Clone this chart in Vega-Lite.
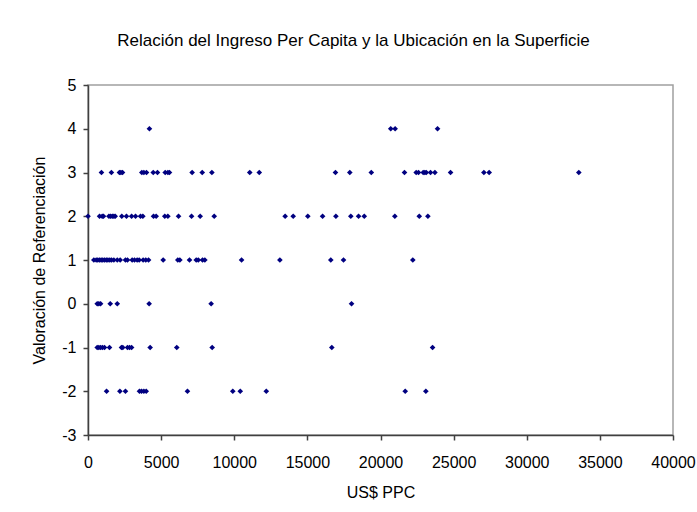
{
  "$schema": "https://vega.github.io/schema/vega-lite/v6.json",
  "autosize": "none",
  "width": 585,
  "height": 350,
  "padding": {"left": 88, "top": 85, "right": 24, "bottom": 77},
  "background": "white",
  "title": {
    "text": "Relación del Ingreso Per Capita y la Ubicación en la Superficie",
    "font": "Liberation Sans",
    "fontSize": 17,
    "fontWeight": "normal",
    "color": "black",
    "anchor": "middle",
    "dx": -27,
    "offset": 27
  },
  "config": {
    "view": {"stroke": "#a0a0a0", "strokeWidth": 1.5},
    "axis": {
      "grid": false,
      "domainColor": "#404040",
      "domainWidth": 1.5,
      "tickColor": "#404040",
      "tickWidth": 1.5,
      "tickSize": 5,
      "labelFont": "Liberation Sans",
      "labelFontSize": 16,
      "labelColor": "black",
      "titleFont": "Liberation Sans",
      "titleFontSize": 16,
      "titleFontWeight": "normal",
      "titleColor": "black"
    }
  },
  "data": {
    "values": [
      {"ingreso": 4200, "valoracion": 4}, {"ingreso": 20700, "valoracion": 4}, {"ingreso": 21000, "valoracion": 4}, {"ingreso": 23900, "valoracion": 4},
      {"ingreso": 920, "valoracion": 3}, {"ingreso": 1600, "valoracion": 3}, {"ingreso": 2150, "valoracion": 3}, {"ingreso": 2250, "valoracion": 3}, {"ingreso": 2360, "valoracion": 3}, {"ingreso": 3680, "valoracion": 3}, {"ingreso": 3820, "valoracion": 3}, {"ingreso": 4000, "valoracion": 3}, {"ingreso": 4460, "valoracion": 3}, {"ingreso": 4750, "valoracion": 3}, {"ingreso": 5280, "valoracion": 3}, {"ingreso": 5460, "valoracion": 3}, {"ingreso": 5570, "valoracion": 3}, {"ingreso": 7120, "valoracion": 3}, {"ingreso": 7810, "valoracion": 3}, {"ingreso": 8470, "valoracion": 3}, {"ingreso": 11060, "valoracion": 3}, {"ingreso": 11710, "valoracion": 3}, {"ingreso": 16920, "valoracion": 3}, {"ingreso": 17900, "valoracion": 3}, {"ingreso": 19370, "valoracion": 3}, {"ingreso": 21640, "valoracion": 3}, {"ingreso": 22440, "valoracion": 3}, {"ingreso": 22600, "valoracion": 3}, {"ingreso": 22920, "valoracion": 3}, {"ingreso": 23030, "valoracion": 3}, {"ingreso": 23130, "valoracion": 3}, {"ingreso": 23420, "valoracion": 3}, {"ingreso": 23720, "valoracion": 3}, {"ingreso": 24790, "valoracion": 3}, {"ingreso": 27070, "valoracion": 3}, {"ingreso": 27430, "valoracion": 3}, {"ingreso": 33560, "valoracion": 3},
      {"ingreso": 0, "valoracion": 2}, {"ingreso": 790, "valoracion": 2}, {"ingreso": 970, "valoracion": 2}, {"ingreso": 1060, "valoracion": 2}, {"ingreso": 1430, "valoracion": 2}, {"ingreso": 1540, "valoracion": 2}, {"ingreso": 1660, "valoracion": 2}, {"ingreso": 1770, "valoracion": 2}, {"ingreso": 1860, "valoracion": 2}, {"ingreso": 2310, "valoracion": 2}, {"ingreso": 2630, "valoracion": 2}, {"ingreso": 2980, "valoracion": 2}, {"ingreso": 3250, "valoracion": 2}, {"ingreso": 3590, "valoracion": 2}, {"ingreso": 3750, "valoracion": 2}, {"ingreso": 4480, "valoracion": 2}, {"ingreso": 4660, "valoracion": 2}, {"ingreso": 5250, "valoracion": 2}, {"ingreso": 5460, "valoracion": 2}, {"ingreso": 6190, "valoracion": 2}, {"ingreso": 7080, "valoracion": 2}, {"ingreso": 7670, "valoracion": 2}, {"ingreso": 8630, "valoracion": 2}, {"ingreso": 13480, "valoracion": 2}, {"ingreso": 14030, "valoracion": 2}, {"ingreso": 15030, "valoracion": 2}, {"ingreso": 16040, "valoracion": 2}, {"ingreso": 16950, "valoracion": 2}, {"ingreso": 17970, "valoracion": 2}, {"ingreso": 18500, "valoracion": 2}, {"ingreso": 18890, "valoracion": 2}, {"ingreso": 20980, "valoracion": 2}, {"ingreso": 22650, "valoracion": 2}, {"ingreso": 23240, "valoracion": 2},
      {"ingreso": 400, "valoracion": 1}, {"ingreso": 560, "valoracion": 1}, {"ingreso": 670, "valoracion": 1}, {"ingreso": 790, "valoracion": 1}, {"ingreso": 900, "valoracion": 1}, {"ingreso": 1010, "valoracion": 1}, {"ingreso": 1130, "valoracion": 1}, {"ingreso": 1250, "valoracion": 1}, {"ingreso": 1360, "valoracion": 1}, {"ingreso": 1490, "valoracion": 1}, {"ingreso": 1610, "valoracion": 1}, {"ingreso": 1770, "valoracion": 1}, {"ingreso": 2000, "valoracion": 1}, {"ingreso": 2200, "valoracion": 1}, {"ingreso": 2560, "valoracion": 1}, {"ingreso": 2700, "valoracion": 1}, {"ingreso": 3020, "valoracion": 1}, {"ingreso": 3180, "valoracion": 1}, {"ingreso": 3360, "valoracion": 1}, {"ingreso": 3500, "valoracion": 1}, {"ingreso": 3770, "valoracion": 1}, {"ingreso": 3950, "valoracion": 1}, {"ingreso": 4140, "valoracion": 1}, {"ingreso": 5140, "valoracion": 1}, {"ingreso": 6140, "valoracion": 1}, {"ingreso": 6280, "valoracion": 1}, {"ingreso": 6940, "valoracion": 1}, {"ingreso": 7400, "valoracion": 1}, {"ingreso": 7540, "valoracion": 1}, {"ingreso": 7830, "valoracion": 1}, {"ingreso": 7990, "valoracion": 1}, {"ingreso": 10500, "valoracion": 1}, {"ingreso": 13120, "valoracion": 1}, {"ingreso": 16600, "valoracion": 1}, {"ingreso": 17470, "valoracion": 1}, {"ingreso": 22210, "valoracion": 1},
      {"ingreso": 630, "valoracion": 0}, {"ingreso": 740, "valoracion": 0}, {"ingreso": 860, "valoracion": 0}, {"ingreso": 1520, "valoracion": 0}, {"ingreso": 2000, "valoracion": 0}, {"ingreso": 4180, "valoracion": 0}, {"ingreso": 8420, "valoracion": 0}, {"ingreso": 18020, "valoracion": 0},
      {"ingreso": 630, "valoracion": -1}, {"ingreso": 740, "valoracion": -1}, {"ingreso": 860, "valoracion": -1}, {"ingreso": 990, "valoracion": -1}, {"ingreso": 1130, "valoracion": -1}, {"ingreso": 1470, "valoracion": -1}, {"ingreso": 2290, "valoracion": -1}, {"ingreso": 2380, "valoracion": -1}, {"ingreso": 2700, "valoracion": -1}, {"ingreso": 2840, "valoracion": -1}, {"ingreso": 2980, "valoracion": -1}, {"ingreso": 4250, "valoracion": -1}, {"ingreso": 6070, "valoracion": -1}, {"ingreso": 8490, "valoracion": -1}, {"ingreso": 16670, "valoracion": -1}, {"ingreso": 23560, "valoracion": -1},
      {"ingreso": 1270, "valoracion": -2}, {"ingreso": 2180, "valoracion": -2}, {"ingreso": 2560, "valoracion": -2}, {"ingreso": 3520, "valoracion": -2}, {"ingreso": 3660, "valoracion": -2}, {"ingreso": 3820, "valoracion": -2}, {"ingreso": 3980, "valoracion": -2}, {"ingreso": 6800, "valoracion": -2}, {"ingreso": 9900, "valoracion": -2}, {"ingreso": 10410, "valoracion": -2}, {"ingreso": 12190, "valoracion": -2}, {"ingreso": 21690, "valoracion": -2}, {"ingreso": 23100, "valoracion": -2}
    ]
  },
  "mark": {"type": "point", "shape": "diamond", "filled": true, "size": 32, "color": "#000080", "opacity": 1},
  "encoding": {
    "x": {
      "field": "ingreso",
      "type": "quantitative",
      "title": "US$ PPC",
      "scale": {"domain": [0, 40000], "nice": false, "zero": false},
      "axis": {"values": [0, 5000, 10000, 15000, 20000, 25000, 30000, 35000, 40000], "labelExpr": "'' + datum.value", "labelPadding": 14, "titlePadding": 14, "labelFlush": false, "labelOverlap": false}
    },
    "y": {
      "field": "valoracion",
      "type": "quantitative",
      "title": "Valoración de Referenciación",
      "scale": {"domain": [-3, 5], "nice": false, "zero": false},
      "axis": {"values": [-3, -2, -1, 0, 1, 2, 3, 4, 5], "labelExpr": "'' + datum.value", "labelPadding": 7, "titlePadding": 14}
    }
  }
}
